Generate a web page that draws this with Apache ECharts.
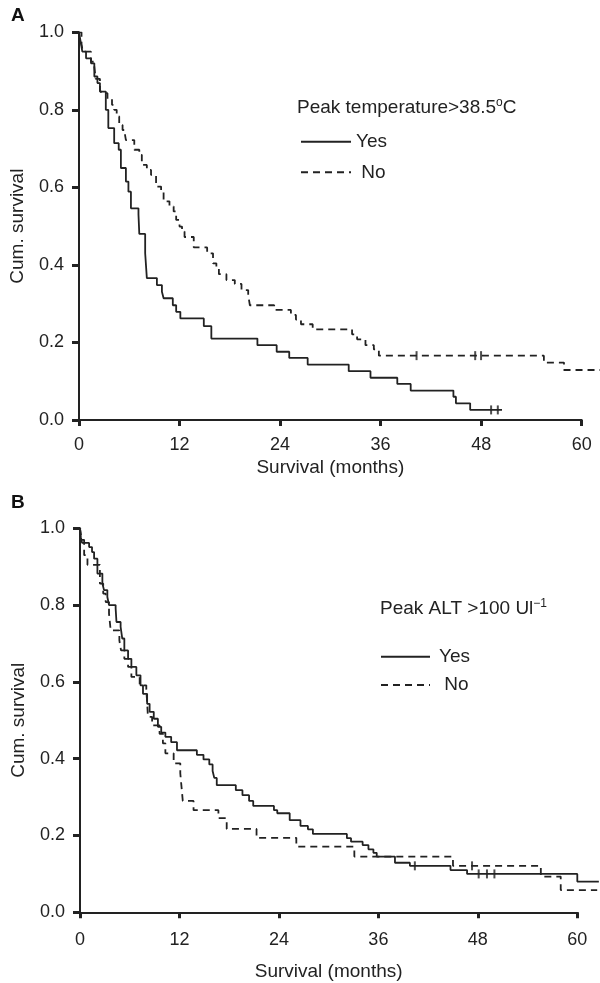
<!DOCTYPE html>
<html>
<head>
<meta charset="utf-8">
<script src="https://cdn.jsdelivr.net/npm/echarts@6/dist/echarts.min.js"></script>
<style>
html, body { margin: 0; padding: 0; background: #fff; }
#chart { width: 600px; height: 983px; }
</style>
</head>
<body>
<div id="chart"></div>
<script>
//***** data (months, cumulative survival)
// panel A: peak temperature > 38.5
var aYesTime = [0, 0.2, 0.4, 0.84, 1.43, 1.83, 2.2, 2.5, 3.2, 3.5, 4.2, 4.74, 5.0, 5.6, 5.9, 6.2, 7.1, 7.2, 7.9, 8.1, 9.3, 9.9, 10.1, 11.2, 11.6, 12.1, 14.9, 15.8, 21.3, 23.6, 25.1, 27.3, 32.2, 34.8, 38.0, 39.6, 44.7, 45.0, 46.7, 50.5]
var aYesSurv = [1.0, 0.975, 0.95, 0.933, 0.92, 0.886, 0.869, 0.847, 0.80, 0.753, 0.714, 0.697, 0.65, 0.615, 0.589, 0.546, 0.53, 0.48, 0.43, 0.366, 0.348, 0.331, 0.314, 0.296, 0.279, 0.262, 0.242, 0.21, 0.193, 0.176, 0.16, 0.143, 0.126, 0.109, 0.093, 0.076, 0.06, 0.043, 0.026, 0.026]
var aNoTime = [0, 0.3, 0.44, 1.43, 1.8, 2.0, 2.5, 2.7, 3.4, 3.94, 4.2, 4.5, 4.8, 5.2, 5.5, 5.6, 6.6, 7.2, 7.5, 8.1, 8.6, 9.2, 9.8, 10.1, 10.8, 11.3, 11.6, 12.0, 12.3, 12.6, 13.7, 15.3, 16.0, 16.4, 16.7, 17.6, 18.6, 19.4, 20.2, 20.4, 23.3, 25.3, 25.9, 26.5, 27.9, 32.6, 33.2, 34.2, 35.2, 35.8, 55.5, 57.9, 62.2]
var aNoSurv = [1.0, 0.97, 0.95, 0.924, 0.916, 0.88, 0.851, 0.843, 0.828, 0.813, 0.80, 0.783, 0.761, 0.748, 0.735, 0.722, 0.697, 0.684, 0.658, 0.645, 0.632, 0.602, 0.589, 0.564, 0.551, 0.538, 0.516, 0.499, 0.486, 0.472, 0.445, 0.43, 0.404, 0.391, 0.376, 0.361, 0.351, 0.335, 0.322, 0.296, 0.284, 0.271, 0.259, 0.247, 0.234, 0.221, 0.208, 0.193, 0.182, 0.166, 0.148, 0.129, 0.129]
var aYesCensTime = [49.2, 50.0]
var aYesCensSurv = [0.026, 0.026]
var aNoCensTime = [40.3, 47.3, 48.0]
var aNoCensSurv = [0.166, 0.166, 0.166]

// panel B: peak ALT > 100
var bYesTime = [0, 0.1, 0.25, 1.1, 1.45, 1.7, 2.1, 2.7, 2.9, 3.3, 3.5, 4.3, 4.4, 4.9, 5.1, 5.35, 5.8, 6.2, 6.8, 7.3, 7.6, 8.1, 8.4, 8.9, 9.4, 9.8, 10.3, 11.0, 11.7, 14.1, 14.9, 15.6, 16.0, 16.2, 16.5, 18.8, 19.6, 20.4, 20.9, 23.4, 23.8, 25.3, 26.6, 27.5, 28.1, 32.2, 32.7, 34.1, 34.8, 35.4, 35.8, 38.0, 39.8, 44.7, 46.7, 60.0, 62.6]
var bYesSurv = [1.0, 0.977, 0.962, 0.951, 0.938, 0.921, 0.882, 0.856, 0.839, 0.821, 0.80, 0.791, 0.756, 0.743, 0.713, 0.682, 0.66, 0.639, 0.617, 0.591, 0.569, 0.543, 0.522, 0.504, 0.483, 0.468, 0.457, 0.443, 0.422, 0.41, 0.398, 0.385, 0.368, 0.35, 0.331, 0.318, 0.305, 0.29, 0.277, 0.266, 0.258, 0.24, 0.225, 0.216, 0.204, 0.193, 0.184, 0.175, 0.164, 0.155, 0.145, 0.129, 0.121, 0.11, 0.10, 0.08, 0.08]
var bNoTime = [0, 0.2, 0.5, 0.9, 2.4, 2.8, 3.1, 3.5, 3.6, 3.7, 4.75, 4.95, 5.35, 5.8, 6.2, 7.2, 8.0, 8.2, 8.7, 9.6, 10.0, 10.3, 11.3, 12.1, 12.3, 12.4, 13.7, 16.7, 17.7, 21.3, 26.1, 33.1, 45.0, 55.6, 58.0, 62.4]
var bNoSurv = [1.0, 0.97, 0.93, 0.905, 0.856, 0.83, 0.808, 0.778, 0.756, 0.734, 0.708, 0.682, 0.66, 0.639, 0.613, 0.591, 0.582, 0.509, 0.487, 0.465, 0.44, 0.414, 0.388, 0.362, 0.314, 0.29, 0.266, 0.245, 0.217, 0.194, 0.171, 0.145, 0.121, 0.093, 0.058, 0.058]
var bYesCensTime = [40.4, 48.1, 49.1, 50.0]
var bYesCensSurv = [0.121, 0.10, 0.10, 0.10]
var bNoCensTime = [47.3]
var bNoCensSurv = [0.121]

var groupNames = ['Yes', 'No']
var xTickStep = 12
var xAxisEnd = 60       // drawn axis stops at 60, curves run on past it
var aDataEnd = 62.2
var bDataEnd = 62.6
var yTickStep = 0.2

var font = 'Liberation Sans, Arial, Helvetica, sans-serif'
var ink = '#222'
var dash = [7, 5]

function pairs(t, s) {
    return t.map(function (x, i) { return [x, s[i]] })
}

function xAxis(idx, margin, gap) {
    return {
        gridIndex: idx, type: 'value', min: 0, max: xAxisEnd, interval: xTickStep,
        name: 'Survival (months)', nameLocation: 'middle', nameGap: gap,
        nameTextStyle: { fontFamily: font, fontSize: 19, color: ink },
        axisLine: { lineStyle: { color: ink, width: 2 } },
        axisTick: { length: 6, lineStyle: { color: ink, width: 3 } },
        axisLabel: { margin: margin, fontFamily: font, fontSize: 18, color: ink },
        splitLine: { show: false }
    }
}

function yAxis(idx) {
    return {
        gridIndex: idx, type: 'value', min: 0, max: 1, interval: yTickStep,
        name: 'Cum. survival', nameLocation: 'middle', nameGap: 52,
        nameTextStyle: { fontFamily: font, fontSize: 19, color: ink },
        axisLine: { show: true, lineStyle: { color: ink, width: 2 } },
        axisTick: { show: true, length: 7, lineStyle: { color: ink, width: 3 } },
        axisLabel: { margin: 15, fontFamily: font, fontSize: 18, color: ink,
            formatter: function (v) { return v.toFixed(1) } },
        splitLine: { show: false }
    }
}

// hidden axes of the overlay grid that carries the curves
function hiddenX(idx, end) {
    return { gridIndex: idx, type: 'value', min: 0, max: end, show: false, splitLine: { show: false } }
}
function hiddenY(idx) {
    return { gridIndex: idx, type: 'value', min: 0, max: 1, show: false, splitLine: { show: false } }
}

function curve(name, idx, t, s, dashed) {
    return {
        name: name, type: 'line', step: 'end', xAxisIndex: idx, yAxisIndex: idx,
        data: pairs(t, s), symbol: 'none', showSymbol: false,
        lineStyle: { color: ink, width: 1.8, type: dashed ? dash : 'solid' },
        itemStyle: { color: ink }
    }
}

function censor(idx, t, s) {
    return {
        type: 'scatter', xAxisIndex: idx, yAxisIndex: idx, data: pairs(t, s),
        symbol: 'rect', symbolSize: [2, 9], silent: true,
        itemStyle: { color: ink }
    }
}

function legend(left, top, gap, width, textPad) {
    return {
        data: groupNames, orient: 'vertical', left: left, top: top, padding: 0,
        itemWidth: width, itemHeight: 14, itemGap: gap, selectedMode: false,
        itemStyle: { opacity: 0 },
        formatter: function (n) { return n === 'No' ? ' No' : n },
        textStyle: { fontFamily: font, fontSize: 19, color: ink, lineHeight: 20, padding: [0, 0, 0, textPad] }
    }
}

var supStyle = { fontFamily: font, fontSize: 12, color: ink, padding: [0, 0, 9, 0] }
var aBox = { left: 79, top: 32.3, height: 387.7, width: 502.7 }
var bBox = { left: 80, top: 528.3, height: 384, width: 497.3 }

var myChart = echarts.init(document.getElementById('chart'))
myChart.setOption({
    backgroundColor: '#fff',
    animation: false,
    title: [
        { text: 'A', left: 11, top: 6, padding: 0, textStyle: { fontFamily: font, fontSize: 19, fontWeight: 'bold', color: '#111' } },
        { text: 'Peak temperature>38.5{sup|o}C', left: 297, top: 97, padding: 0,
          textStyle: { fontFamily: font, fontSize: 19, fontWeight: 'normal', color: ink, rich: { sup: supStyle } } },
        { text: 'B', left: 11, top: 493, padding: 0, textStyle: { fontFamily: font, fontSize: 19, fontWeight: 'bold', color: '#111' } },
        { text: 'Peak ALT >100 Ul{sup|\u22121}', left: 380, top: 598, padding: 0,
          textStyle: { fontFamily: font, fontSize: 19, fontWeight: 'normal', color: ink, rich: { sup: supStyle } } }
    ],
    legend: [
        legend(300, 131.7, 10.6, 50, 0),
        legend(380, 646.7, 8.3, 49, 4)
    ],
    grid: [
        aBox,
        bBox,
        { left: aBox.left, top: aBox.top, height: aBox.height, width: aBox.width * aDataEnd / xAxisEnd },
        { left: bBox.left, top: bBox.top, height: bBox.height, width: bBox.width * bDataEnd / xAxisEnd }
    ],
    xAxis: [xAxis(0, 16, 38), xAxis(1, 19, 50), hiddenX(2, aDataEnd), hiddenX(3, bDataEnd)],
    yAxis: [yAxis(0), yAxis(1), hiddenY(2), hiddenY(3)],
    series: [
        curve('Yes', 2, aYesTime, aYesSurv, false),
        curve('No', 2, aNoTime, aNoSurv, true),
        censor(2, aYesCensTime, aYesCensSurv),
        censor(2, aNoCensTime, aNoCensSurv),
        curve('Yes', 3, bYesTime, bYesSurv, false),
        curve('No', 3, bNoTime, bNoSurv, true),
        censor(3, bYesCensTime, bYesCensSurv),
        censor(3, bNoCensTime, bNoCensSurv)
    ]
})
</script>
</body>
</html>
